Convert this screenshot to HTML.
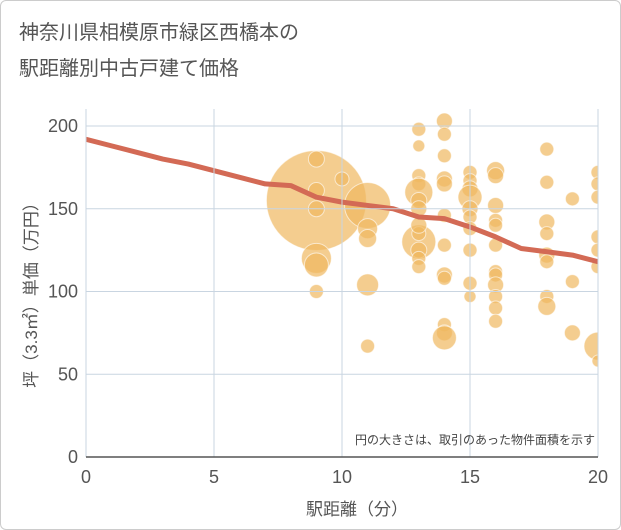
<!DOCTYPE html>
<html><head><meta charset="utf-8"><style>
body{margin:0;background:#fff;font-family:"Liberation Sans","Noto Sans CJK JP",sans-serif;}
#wrap{position:relative;width:619px;height:528px;border:1px solid #ccc;border-radius:6px;overflow:hidden;}
</style></head><body>
<div id="wrap">
<svg id="chart" width="621" height="530"><defs><clipPath id="pc"><rect x="85" y="100" width="512" height="357"/></clipPath></defs><g id="plot" clip-path="url(#pc)"></g></svg>
</div>
<script>
const xTicks=[0,5,10,15,20];
const yTicks=[0,50,100,150,200];
const bubbleX=[9,9,9,9,9,9,9,10,11,11,11,11,11,13,13,13,13,13,13,13,13,13,13,13,13,13,14,14,14,14,14,14,14,14,14,14,14,14,15,15,15,15,15,15,15,15,15,15,16,16,16,16,16,16,16,16,16,16,16,16,18,18,18,18,18,18,18,18,19,19,19,20,20,20,20,20,20,20,20];
const bubbleY=[155,180,161,150,120,116,100,168,152,138,132,104,67,198,188,170,165,160,155,150,130,125,120,115,135,140,203,195,182,168,165,146,128,110,108,80,75,72,172,167,162,157,150,145,138,125,105,97,173,170,152,143,140,128,112,110,104,97,90,82,186,166,142,135,122,118,97,91,156,106,75,172,165,157,133,125,115,67,58];
const bubbleR=[50,8,8,8,15,12,7,7,23,10,9,11,7,7,6,7,7,14,8,8,17,8,7,7,7,8,8,7,7,8,8,7,7,8,7,7,8,12,7,7,8,12,8,7,7,7,7,6,9,8,8,7,7,7,7,7,8,7,7,7,7,7,8,7,8,7,7,9,7,7,8,7,7,7,7,7,7,14,6];
const lineX=[0,1,2,3,4,5,6,7,8,9,10,11,12,13,14,15,16,17,18,19,20];
const lineY=[192,188,184,180,177,173,169,165,164,157,154,152,150,145,144,139,133,126,124,122,118];
const X0=85,X1=597,Y0=456,Y1=125;
const sx=v=>X0+(v/20)*(X1-X0);
const sy=v=>Y0-(v/200)*(Y0-Y1);
const svg=document.getElementById('chart');const plot=document.getElementById('plot');const NS='http://www.w3.org/2000/svg';
function mk(t,a,txt,p){const e=document.createElementNS(NS,t);for(const k in a)e.setAttribute(k,a[k]);if(txt!=null)e.textContent=txt;(p||svg).appendChild(e);return e;}
let e;
xTicks.forEach(t=>{e=mk('line',{x1:sx(t),x2:sx(t),y1:108,y2:Y0,stroke:'#c9d5e1','stroke-width':1});

e=mk('text',{x:sx(t),y:482,'text-anchor':'middle','font-size':18,fill:'#555'},t);
});
yTicks.forEach(t=>{e=mk('line',{x1:X0,x2:X1,y1:sy(t),y2:sy(t),stroke:'#c9d5e1','stroke-width':1});

e=mk('text',{x:77,y:sy(t)+6,'text-anchor':'end','font-size':18,fill:'#555'},t);
});
bubbleX.forEach((v,i)=>{e=mk('circle',{cx:sx(v),cy:sy(bubbleY[i]),r:bubbleR[i],fill:'rgba(240,184,95,0.7)',stroke:'rgba(255,255,255,0.6)','stroke-width':1},null,plot);
});
e=mk('polyline',{points:lineX.map((v,i)=>sx(v)+','+sy(lineY[i])).join(' '),fill:'none',stroke:'#d36a55','stroke-width':5,'stroke-linejoin':'round'},null,plot);

e=mk('line',{x1:X0,x2:X1,y1:Y0,y2:Y0,stroke:'#555','stroke-width':1.5});

e=mk('text',{x:18,y:38,'font-size':20,fill:'#555'},'神奈川県相模原市緑区西橋本の');

e=mk('text',{x:18,y:74,'font-size':20,fill:'#555'},'駅距離別中古戸建て価格');

e=mk('text',{x:356,y:514,'text-anchor':'middle','font-size':17,fill:'#555'},'駅距離（分）');

e=mk('text',{x:0,y:0,'text-anchor':'middle','font-size':17,fill:'#555',transform:'translate(36,290) rotate(-90)'},'坪（3.3㎡）単価（万円）');

e=mk('text',{x:594,y:443,'text-anchor':'end','font-size':12,fill:'#444'},'円の大きさは、取引のあった物件面積を示す');

</script>
</body></html>
